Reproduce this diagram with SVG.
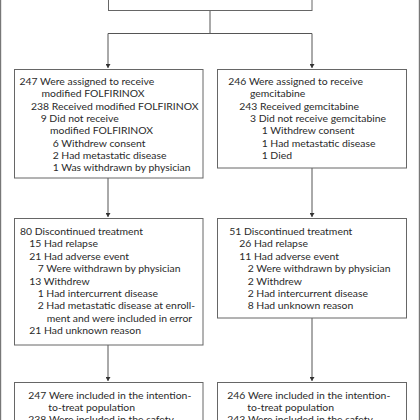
<svg xmlns="http://www.w3.org/2000/svg" width="420" height="420" viewBox="0 0 420 420">
<defs>
<marker id="ah" viewBox="0 0 8 10" refX="8" refY="5" markerWidth="4" markerHeight="5" orient="auto" markerUnits="userSpaceOnUse">
<path d="M0,0 L8,5 L0,10 Z" fill="#333"/>
</marker>
<style>
.box{fill:#fff;stroke:#666;stroke-width:1}
.frame{stroke:#777;stroke-width:1.2;fill:none}
.con{stroke:#555;stroke-width:1;fill:none}
.arr{marker-end:url(#ah)}
text{font-family:Lato,"Open Sans",sans-serif;font-size:10.4px;fill:#2a2a2a}
</style>
</defs>
<rect width="420" height="420" fill="#fff"/>
<line class="frame" x1="0.6" y1="0" x2="0.6" y2="420"/>
<line class="frame" x1="419.4" y1="0" x2="419.4" y2="420"/>

<g id="connectors">
<line class="con" x1="210" y1="10" x2="210" y2="33.5"/>
<line class="con" x1="108" y1="33.5" x2="312" y2="33.5"/>
<line class="con arr" x1="108" y1="33.5" x2="108" y2="68"/>
<line class="con arr" x1="312" y1="33.5" x2="312" y2="68"/>
<line class="con arr" x1="108" y1="178" x2="108" y2="217"/>
<line class="con arr" x1="312" y1="168" x2="312" y2="217"/>
<line class="con arr" x1="108" y1="345" x2="108" y2="381"/>
<line class="con arr" x1="312" y1="318" x2="312" y2="381"/>
</g>

<g id="top">
<rect class="box" x="108.5" y="-20" width="203.5" height="30.5"/>
</g>

<g id="folfirinox-assigned">
<rect class="box" x="14.5" y="69.5" width="188.5" height="108.5"/>
<text x="19.5" y="85">247 Were assigned to receive</text>
<text x="41.5" y="97.3">modified FOLFIRINOX</text>
<text x="31" y="109.6">238 Received modified FOLFIRINOX</text>
<text x="40.7" y="121.9">9 Did not receive</text>
<text x="50" y="134.2">modified FOLFIRINOX</text>
<text x="52.7" y="146.5">6 Withdrew consent</text>
<text x="52.7" y="158.8">2 Had metastatic disease</text>
<text x="52.7" y="171.1">1 Was withdrawn by physician</text>
</g>

<g id="gemcitabine-assigned">
<rect class="box" x="217.5" y="69.5" width="189" height="98.5"/>
<text x="228.3" y="85">246 Were assigned to receive</text>
<text x="250" y="97.3">gemcitabine</text>
<text x="239.3" y="109.6">243 Received gemcitabine</text>
<text x="250" y="121.9">3 Did not receive gemcitabine</text>
<text x="261.7" y="134.2">1 Withdrew consent</text>
<text x="261.7" y="146.5">1 Had metastatic disease</text>
<text x="261.7" y="158.8">1 Died</text>
</g>

<g id="folfirinox-discontinued">
<rect class="box" x="14.5" y="218.5" width="188.5" height="126.5"/>
<text x="20" y="235">80 Discontinued treatment</text>
<text x="29.3" y="247.4">15 Had relapse</text>
<text x="29.3" y="259.8">21 Had adverse event</text>
<text x="37.7" y="272.2">7 Were withdrawn by physician</text>
<text x="29.3" y="284.6">13 Withdrew</text>
<text x="37.7" y="297">1 Had intercurrent disease</text>
<text x="37.7" y="309.4">2 Had metastatic disease at enroll-</text>
<text x="46.7" y="321.8">ment and were included in error</text>
<text x="29.3" y="334.2">21 Had unknown reason</text>
</g>

<g id="gemcitabine-discontinued">
<rect class="box" x="217.5" y="218.5" width="189" height="99.5"/>
<text x="229.3" y="235">51 Discontinued treatment</text>
<text x="239.3" y="247.4">26 Had relapse</text>
<text x="239.3" y="259.8">11 Had adverse event</text>
<text x="247.7" y="272.2">2 Were withdrawn by physician</text>
<text x="247.7" y="284.6">2 Withdrew</text>
<text x="247.7" y="297">2 Had intercurrent disease</text>
<text x="247.7" y="309.4">8 Had unknown reason</text>
</g>

<g id="folfirinox-itt">
<rect class="box" x="14.5" y="382.5" width="188.5" height="60"/>
<text x="28.3" y="398.5">247 Were included in the intention-</text>
<text x="48.3" y="410.8">to-treat population</text>
<text x="28.3" y="423.1">238 Were included in the safety</text>
</g>

<g id="gemcitabine-itt">
<rect class="box" x="217.5" y="382.5" width="189" height="60"/>
<text x="227.3" y="398.5">246 Were included in the intention-</text>
<text x="247.3" y="410.8">to-treat population</text>
<text x="227.3" y="423.1">243 Were included in the safety</text>
</g>
</svg>
